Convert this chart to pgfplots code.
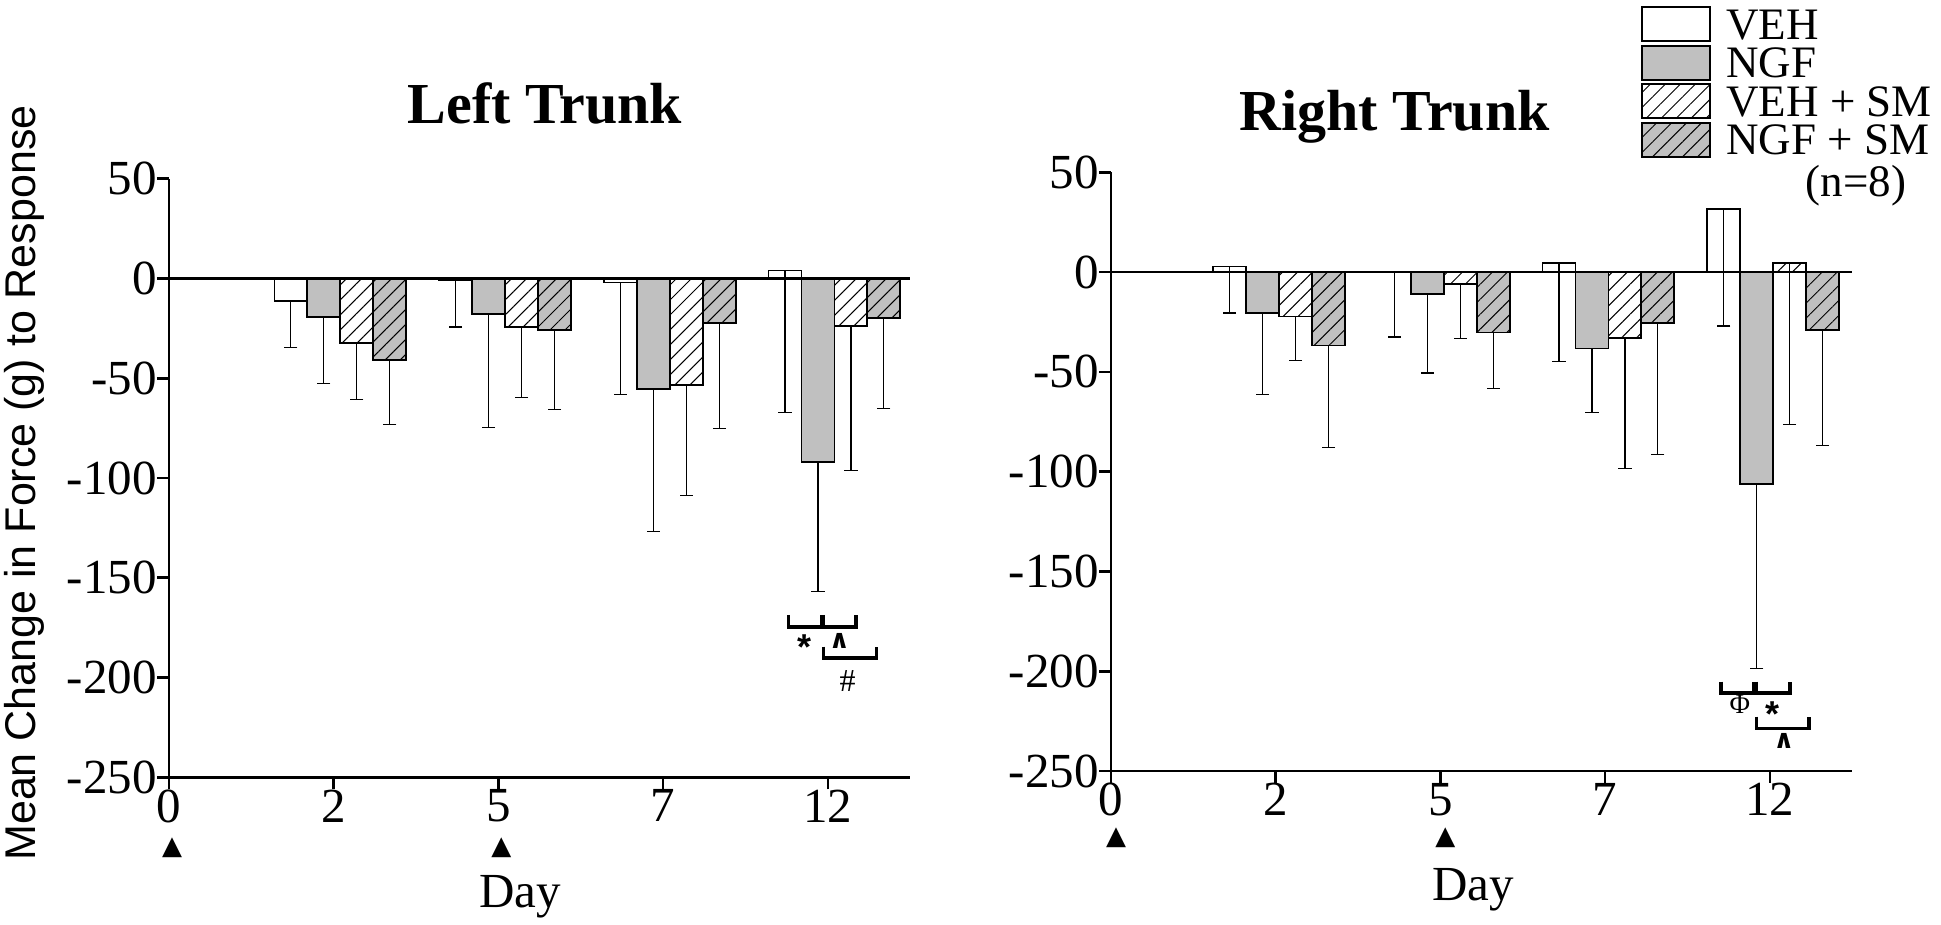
\documentclass[border=0pt]{standalone}
\usepackage{pgfplots}
\pgfplotsset{compat=1.18}
\usepackage{pgfplotstable}
\usepackage{fontspec}
\setmainfont{Liberation Serif}
\setsansfont{Liberation Sans}
\newfontfamily\dejavu{DejaVu Sans}
\usetikzlibrary{patterns.meta}
\definecolor{ngf}{RGB}{192,192,192}
\tikzset{
  hatch/.style={postaction={pattern={Lines[angle=45,distance=5.3pt,line width=0.5pt]}}},
  barvw/.style={draw=black, line width=0.9pt, fill=white},
  barng/.style={draw=black, line width=0.9pt, fill=ngf},
  barvs/.style={draw=black, line width=0.9pt, fill=white, hatch},
  barns/.style={draw=black, line width=0.9pt, fill=ngf, hatch},
  brk/.style={line width=1.75pt, line cap=butt, line join=miter},
  sym/.style={inner sep=0pt},
}
\pgfplotstableread{
x veh vehe ngf ngfe vsm vsme nsm nsme
1 -11.3 23.2 -19.2 33.6 -32.5 28.0 -41.0 32.3
2 -0.8 23.5 -18.0 56.5 -24.3 35.2 -25.8 40.0
3 -2.0 56.3 -55.3 71.4 -53.5 55.2 -22.2 53.0
4 4.0 71.0 -92.0 64.9 -23.7 72.5 -19.8 45.5
}\lefttab
\pgfplotstableread{
x veh vehe ngf ngfe vsm vsme nsm nsme
1 2.8 23.3 -20.5 40.8 -22.2 22.1 -36.8 51.2
2 0.0 32.5 -10.8 39.7 -5.8 27.4 -30.2 28.1
3 4.7 49.5 -38.3 31.9 -32.8 65.5 -25.3 65.9
4 31.5 58.5 -106.0 92.5 4.7 80.9 -29.0 57.8
}\righttab
\pgfplotsset{
  trunk/.style={
    anchor=south west, width=370.6pt, height=299.3pt, scale only axis,
    xmin=0, xmax=4.5, ymin=-250, ymax=50,
    axis x line*=bottom, axis y line*=left,
    axis line style={line width=1.3pt},
    ytick={-250,-200,-150,-100,-50,0,50},
    yticklabels={-250,-200,-150,-100,-50,0,50},
    xtick={0,1,2,3,4}, xticklabels={0,2,5,7,12},
    tick align=outside,
    major tick length=6pt,
    tick style={black, line width=1.3pt},
    ticklabel style={font=\fontsize{24.5}{24.5}\selectfont, inner sep=0pt},
    yticklabel style={anchor=east},
    xticklabel style={anchor=north},
    ybar=0pt, bar width=0.2,
    clip=false,
  },
  ebar/.style={error bars/.cd, y dir=minus, y explicit,
    error bar style={line width=0.6pt, black},
    error mark options={rotate=90, line width=0.6pt, mark size=3.3pt, black}},
}
\begin{document}
\begin{tikzpicture}
\useasboundingbox (0,0) rectangle (970.5pt,462.5pt);
% ---------------- Left Trunk ----------------
\begin{axis}[trunk, at={(84.5pt,73.85pt)}]
\addplot[barvw, bar shift=-0.26, ebar] table[x=x, y=veh, y error=vehe] {\lefttab};
\addplot[barng, bar shift=-0.06, ebar] table[x=x, y=ngf, y error=ngfe] {\lefttab};
\addplot[barvs, bar shift=0.14, ebar] table[x=x, y=vsm, y error=vsme] {\lefttab};
\addplot[barns, bar shift=0.34, ebar] table[x=x, y=nsm, y error=nsme] {\lefttab};
\draw[line width=1.2pt] (axis cs:0,0) -- (axis cs:4.5,0);
\draw[brk] (axis cs:3.760,-168.6) |- (axis cs:3.963,-174.8) -- (axis cs:3.963,-168.6);
\draw[brk] (axis cs:3.973,-168.6) |- (axis cs:4.171,-174.8) -- (axis cs:4.171,-168.6);
\draw[brk] (axis cs:3.973,-184.5) |- (axis cs:4.295,-190.3) -- (axis cs:4.295,-184.5);
\node[sym, anchor=north, font=\sffamily\bfseries\fontsize{18}{18}\selectfont] at (axis cs:3.860,-178.6) {*};
\node[sym, anchor=north, font=\dejavu\bfseries\fontsize{13}{13}\selectfont] at (axis cs:4.071,-177.6) {∧};
\node[sym, font=\fontsize{16}{16}\selectfont] at (axis cs:4.120,-201.5) {\#};
\node[sym, anchor=north, font=\dejavu\fontsize{13}{13}\selectfont] at ([xshift=1.5pt,yshift=-29.9pt]axis cs:0,-250) {▲};
\node[sym, anchor=north, font=\dejavu\fontsize{13}{13}\selectfont] at ([xshift=1.5pt,yshift=-29.9pt]axis cs:2,-250) {▲};
\end{axis}
% ---------------- Right Trunk ----------------
\begin{axis}[trunk, at={(555.5pt,77pt)}]
\addplot[barvw, bar shift=-0.28, ebar] table[x=x, y=veh, y error=vehe] {\righttab};
\addplot[barng, bar shift=-0.08, ebar] table[x=x, y=ngf, y error=ngfe] {\righttab};
\addplot[barvs, bar shift=0.12, ebar] table[x=x, y=vsm, y error=vsme] {\righttab};
\addplot[barns, bar shift=0.32, ebar] table[x=x, y=nsm, y error=nsme] {\righttab};
\draw[line width=1.2pt] (axis cs:0,0) -- (axis cs:4.5,0);
\draw[brk] (axis cs:3.703,-205.2) |- (axis cs:3.903,-211.0) -- (axis cs:3.903,-205.2);
\draw[brk] (axis cs:3.915,-205.2) |- (axis cs:4.121,-211.0) -- (axis cs:4.121,-205.2);
\draw[brk] (axis cs:3.919,-222.8) |- (axis cs:4.238,-228.6) -- (axis cs:4.238,-222.8);
\node[sym, font=\fontsize{14}{14}\selectfont] at (axis cs:3.818,-216.8) {Φ};
\node[sym, anchor=north, font=\sffamily\bfseries\fontsize{18}{18}\selectfont] at (axis cs:4.017,-215.2) {*};
\node[sym, anchor=north, font=\dejavu\bfseries\fontsize{13}{13}\selectfont] at (axis cs:4.085,-230.9) {∧};
\node[sym, anchor=north, font=\dejavu\fontsize{13}{13}\selectfont] at ([xshift=2.5pt,yshift=-28.2pt]axis cs:0,-250) {▲};
\node[sym, anchor=north, font=\dejavu\fontsize{13}{13}\selectfont] at ([xshift=2.5pt,yshift=-28.2pt]axis cs:2,-250) {▲};
\end{axis}
% ---------------- titles and labels ----------------
\node[anchor=base, inner sep=0pt, font=\bfseries\fontsize{29}{29}\selectfont] at (272.4pt,400.6pt) {Left Trunk};
\node[anchor=base, inner sep=0pt, font=\bfseries\fontsize{29}{29}\selectfont] at (697.3pt,397pt) {Right Trunk};
\node[anchor=base, inner sep=0pt, font=\fontsize{24.5}{24.5}\selectfont] at (260pt,9pt) {Day};
\node[anchor=base, inner sep=0pt, font=\fontsize{24.5}{24.5}\selectfont] at (736.5pt,12.5pt) {Day};
\node[rotate=90, inner sep=0pt, font=\sffamily\fontsize{21.5}{21.5}\selectfont] at (12.4pt,221pt) {Mean Change in Force (g) to Response};
% ---------------- legend ----------------
\draw[barvw, line width=1pt] (821pt,441.8pt) rectangle (855pt,458.8pt);
\draw[barng, line width=1pt] (821pt,422.6pt) rectangle (855pt,439.6pt);
\draw[barvs, line width=1pt] (821pt,403.4pt) rectangle (855pt,420.4pt);
\draw[barns, line width=1pt] (821pt,384.2pt) rectangle (855pt,401.2pt);
\begin{scope}[every node/.style={anchor=base west, inner sep=0pt, font=\fontsize{22.5}{22.5}\selectfont}]
\node at (863pt,442.85pt) {VEH};
\node at (863pt,423.65pt) {NGF};
\node at (863pt,404.45pt) {VEH + SM};
\node at (863pt,385.25pt) {NGF + SM};
\end{scope}
\node[anchor=base, inner sep=0pt, font=\fontsize{22.5}{22.5}\selectfont] at (927.9pt,364pt) {(n=8)};
\end{tikzpicture}
\end{document}
